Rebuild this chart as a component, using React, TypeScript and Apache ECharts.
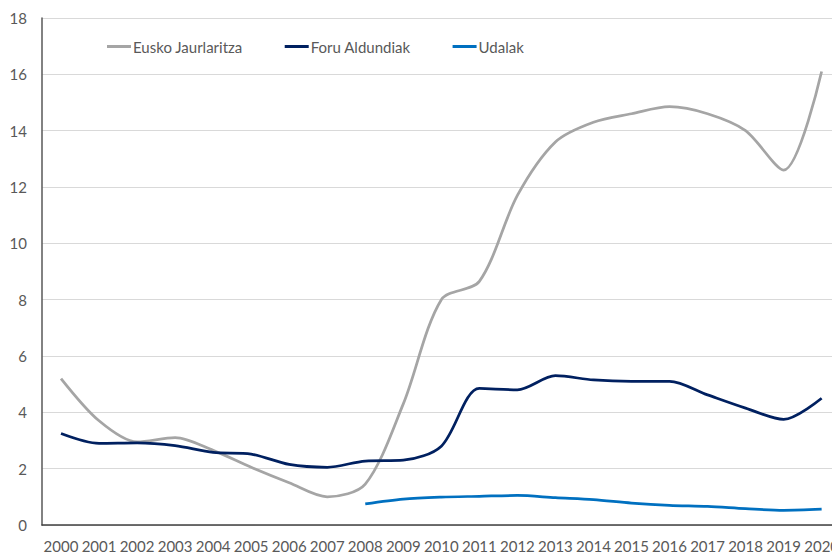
import React, { useEffect, useRef } from "react";
import * as echarts from "echarts";

const years = ["2000","2001","2002","2003","2004","2005","2006","2007","2008","2009","2010","2011","2012","2013","2014","2015","2016","2017","2018","2019","2020"];
const euskoJaurlaritza = [5.2, 3.7, 2.95, 3.1, 2.65, 2.05, 1.5, 1.0, 1.45, 4.3, 8.0, 8.65, 11.7, 13.6, 14.3, 14.6, 14.85, 14.6, 14.0, 12.6, 16.1];
const foruAldundiak = [3.25, 2.9, 2.92, 2.82, 2.58, 2.52, 2.15, 2.05, 2.27, 2.3, 2.8, 4.85, 4.8, 5.3, 5.15, 5.1, 5.1, 4.62, 4.15, 3.75, 4.5];
const udalak = [null, null, null, null, null, null, null, null, 0.75, 0.92, 0.99, 1.02, 1.05, 0.97, 0.9, 0.78, 0.7, 0.66, 0.58, 0.52, 0.56];
const seriesNames = ["Eusko Jaurlaritza", "Foru Aldundiak", "Udalak"];
const colors = ["#A5A5A5", "#002060", "#0070C0"];

export default function App() {
  const ref = useRef<HTMLDivElement>(null);
  useEffect(() => {
    const chart = echarts.init(ref.current!, null, { renderer: "svg" });
    const font = "Lato, 'Open Sans', sans-serif";
    const mk = (name: string, data: any[], color: string) => ({
      name,
      type: "line",
      data,
      smooth: 0.3,
      showSymbol: false,
      symbol: "none",
      lineStyle: { color, width: 2.75 },
      itemStyle: { color },
    });
    chart.setOption({
      animation: false,
      textStyle: { fontFamily: font },
      legend: {
        top: 34,
        left: 102,
        itemWidth: 24,
        itemHeight: 3,
        itemGap: 42,
        icon: "rect",
        textStyle: { color: "#595959", fontSize: 15, fontFamily: font, padding: [0, 0, 0, -3] },
        data: seriesNames,
      },
      grid: { left: 42, right: 0, top: 18, bottom: 26, containLabel: false },
      xAxis: {
        type: "category",
        data: years,
        boundaryGap: true,
        axisLine: { lineStyle: { color: "#404040", width: 1.5 } },
        axisTick: { show: false },
        axisLabel: { color: "#595959", fontSize: 15, margin: 13, interval: 0, fontFamily: font },
        splitLine: { show: false },
      },
      yAxis: {
        type: "value",
        min: 0,
        max: 18,
        interval: 2,
        axisLine: { show: true, lineStyle: { color: "#595959", width: 1.5 } },
        axisTick: { show: false },
        axisLabel: { color: "#595959", fontSize: 15, margin: 15, fontFamily: font },
        splitLine: { lineStyle: { color: "#D9D9D9", width: 1 } },
      },
      series: [
        mk(seriesNames[0], euskoJaurlaritza, colors[0]),
        mk(seriesNames[1], foruAldundiak, colors[1]),
        mk(seriesNames[2], udalak, colors[2]),
      ],
    });
    return () => chart.dispose();
  }, []);
  return (
    <div style={{ position: "fixed", left: 0, top: 0, width: 832, height: 553, overflow: "hidden", background: "#fff" }}>
      <div ref={ref} style={{ width: 842, height: 553 }} />
    </div>
  );
}
